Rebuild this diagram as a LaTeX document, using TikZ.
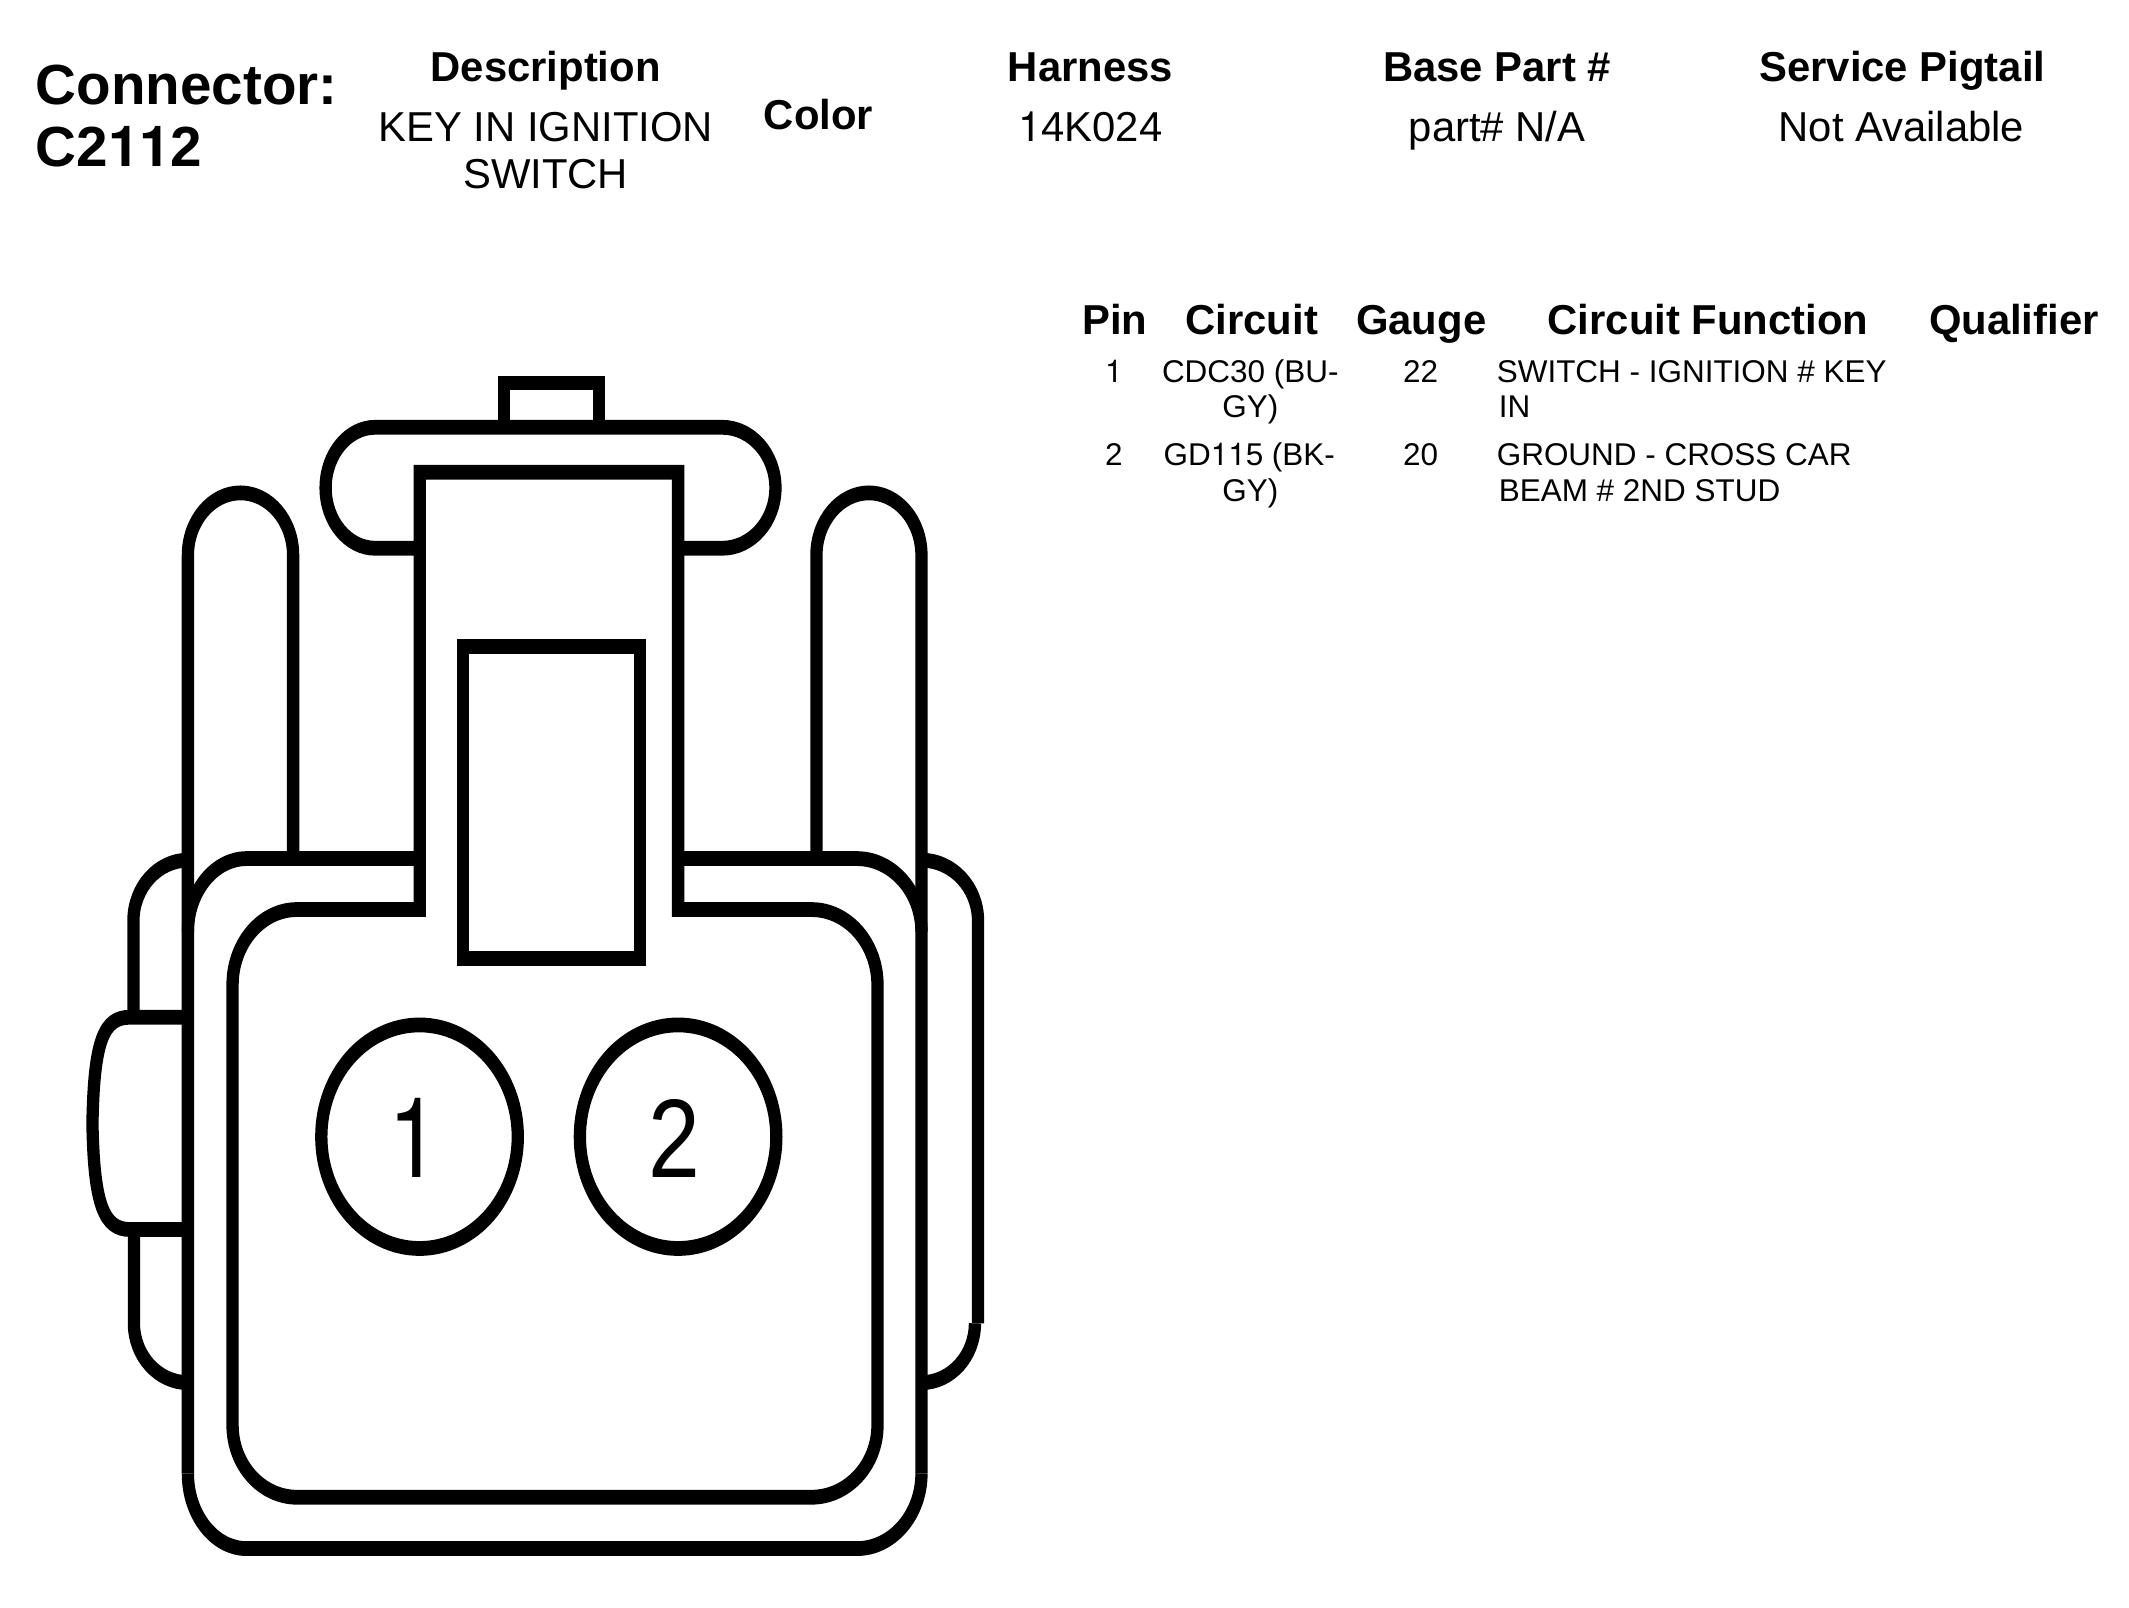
\documentclass[tikz,border=0pt]{standalone}
\usepackage{fontspec}
\setmainfont{Liberation Sans}
\newfontfamily\herosfam{TeX Gyre Heros}
\newcommand\onedigit{{\herosfam 1}}
\newcommand\HVc[4]{.. controls ({#1+.55*(#3-#1)},#2) and (#3,{#4-.55*(#4-#2)}) .. (#3,#4)}
\newcommand\VHc[4]{.. controls (#1,{#2+.55*(#4-#2)}) and ({#3-.55*(#3-#1)},#4) .. (#3,#4)}
\tikzset{
  outline/.style={draw=black,line width=.123cm,line join=miter,line cap=butt},
  headtxt/.style={anchor=base,inner sep=0pt,font=\fontsize{11.9pt}{14pt}\selectfont\bfseries},
  bodytxt/.style={anchor=base,inner sep=0pt,font=\fontsize{11.9pt}{14pt}\selectfont},
  rowtxt/.style={anchor=base,inner sep=0pt,font=\fontsize{8.95pt}{11pt}\selectfont},
  rowleft/.style={anchor=base west,inner sep=0pt,font=\fontsize{8.95pt}{11pt}\selectfont},
  titletxt/.style={anchor=base west,inner sep=0pt,font=\fontsize{16.1pt}{18pt}\selectfont\bfseries},
  digittxt/.style={anchor=base,inner sep=0pt,font=\fontsize{26.5pt}{28pt}\selectfont}
}
\begin{document}
\begin{tikzpicture}
\useasboundingbox[fill=white] (0,0) rectangle (21.29cm,-16.08cm);
\begin{scope}[x=.01cm,y=-.0083333cm,transform canvas={yscale=1.2}]
% top tab
\draw[outline] (504,427.4)--(504,383)--(599.5,383)--(599.5,427.4);
% bar
\draw[outline] (420,548.4)--(375.4,548.4) \HVc{375.4}{548.4}{325.8}{488} \VHc{325.8}{488}{375.4}{427.4}
  --(722.6,427.4) \HVc{722.6}{427.4}{775.9}{488} \VHc{775.9}{488}{722.6}{548.4} --(678.5,548.4);
% fingers
\draw[outline] (188,1474)--(188,555.5) \VHc{188}{555.5}{240.6}{493} \HVc{240.6}{493}{293.3}{555.5} --(293.3,858.8);
\draw[outline] (816.9,858.8)--(816.9,555.5) \VHc{816.9}{555.5}{869.5}{493} \HVc{869.5}{493}{922}{555.5} --(922,1474);
% outer frame
\draw[outline] (420,858.8)--(246.8,858.8) \HVc{246.8}{858.8}{188}{932};
\draw[outline] (678.5,858.8)--(857.3,858.8) \HVc{857.3}{858.8}{922}{932};
\draw[outline] (188,1474) \VHc{188}{1474}{246.8}{1549} --(857.3,1549) \HVc{857.3}{1549}{922}{1474};
% column and inner frame
\draw[outline] (297,909.8)--(420,909.8)--(420,472.3)--(678.5,472.3)--(678.5,909.8)--(812,909.8)
  \HVc{812}{909.8}{878}{985} --(878,1425.7) \VHc{878}{1425.7}{812}{1497.6} --(297,1497.6)
  \HVc{297}{1497.6}{232.7}{1425.7} --(232.7,985) \VHc{232.7}{985}{297}{909.8} --cycle;
% window
\draw[outline] (463,646.4) rectangle (640.2,958.8);
% left ear and latch
\draw[outline] (188,860.4) \HVc{188}{860.4}{133.5}{921} --(133.5,1017.5);
\draw[outline] (188,1017.5)--(130,1017.5) .. controls (104,1017.5) and (94,1040) .. (92.5,1124)
  .. controls (94,1205) and (104,1229.8) .. (130,1229.8)--(188,1229.8);
\draw[outline] (134,1229.8)--(134,1323.7) \VHc{134}{1323.7}{188}{1383};
% right ear
\draw[outline] (922,860.4) \HVc{922}{860.4}{978.6}{921} --(978.6,1323.7);
\draw[outline] (975.5,1323.7) \VHc{975.5}{1323.7}{922}{1383};
% pins
\draw[outline] (419.8,1137) ellipse[x radius=98.3*.01cm,y radius=111.8*.0083333cm];
\draw[outline] (678.5,1137) ellipse[x radius=98.3*.01cm,y radius=111.8*.0083333cm];
\node[digittxt] (dA) at (415,1178) {\onedigit};
\node[digittxt] (dB) at (675,1178) {2};
\end{scope}
\begin{scope}[x=.01cm,y=-.01cm]
% header
\node[titletxt] (t1) at (35,104.7) {Connector:};
\node[titletxt] (t2) at (35,167) {C2\onedigit\onedigit2};
\node[headtxt] (h1) at (546,82) {Description};
\node[bodytxt] (b1) at (546,141.5) {KEY IN IGNITION};
\node[bodytxt] (b1b) at (546,189) {SWITCH};
\node[headtxt] (h2) at (819,130) {Color};
\node[headtxt] (h3) at (1091,82) {Harness};
\node[bodytxt] (b3) at (1091,141.5) {\onedigit4K024};
\node[headtxt] (h4) at (1498,82) {Base Part \#};
\node[bodytxt] (b4) at (1498,141.5) {part\# N/A};
\node[headtxt] (h5) at (1903.5,82) {Service Pigtail};
\node[bodytxt] (b5) at (1902.5,141.5) {Not Available};
% table
\node[headtxt] (p0) at (1115.5,334.5) {Pin};
\node[headtxt] (c0) at (1252.5,334.5) {Circuit};
\node[headtxt] (g0) at (1422,334.5) {Gauge};
\node[headtxt] (f0) at (1709,334.5) {Circuit Function};
\node[headtxt] (q0) at (2015,334.5) {Qualifier};
\node[rowtxt] (p1) at (1114.5,383) {\onedigit};
\node[rowtxt] (c1) at (1251,383) {CDC30 (BU-};
\node[rowtxt] (c1b) at (1251,418) {GY)};
\node[rowtxt] (g1) at (1421.5,383) {22};
\node[rowleft] (f1) at (1497,383) {SWITCH - IGNITION \# KEY};
\node[rowleft] (f1b) at (1499,418) {IN};
\node[rowtxt] (p2) at (1114.5,466) {2};
\node[rowtxt] (c2) at (1250,466) {GD\onedigit\onedigit5 (BK-};
\node[rowtxt] (c2b) at (1251,501.5) {GY)};
\node[rowtxt] (g2) at (1421.5,466) {20};
\node[rowleft] (f2) at (1497,466) {GROUND - CROSS CAR};
\node[rowleft] (f2b) at (1499,501.5) {BEAM \# 2ND STUD};
\end{scope}
\end{tikzpicture}
\end{document}
